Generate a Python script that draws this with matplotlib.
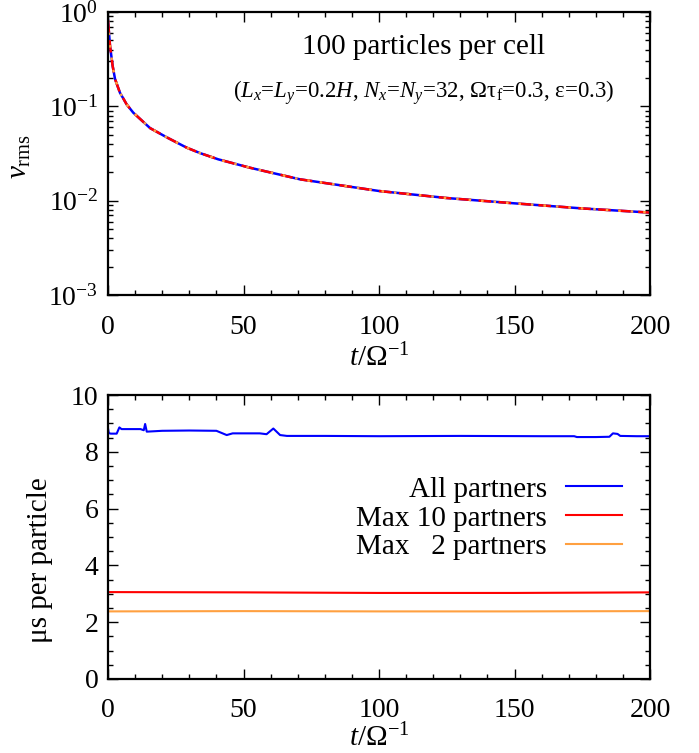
import numpy as np
import matplotlib
matplotlib.use('Agg')
import matplotlib.pyplot as plt
from matplotlib.ticker import MultipleLocator, LogLocator, NullFormatter

plt.rcParams['font.family'] = ['Liberation Serif', 'DejaVu Serif']
plt.rcParams['mathtext.fontset'] = 'custom'
plt.rcParams['mathtext.rm'] = 'Liberation Serif'
plt.rcParams['mathtext.it'] = 'Liberation Serif:italic'

# --- top panel: v_rms decay (three runs overlap) ---
t_v = [0, 0.74, 1.7, 2.6, 4.4, 6.9, 9.3, 15.5, 21.7, 29, 34, 40.7, 52.4,
       70.8, 89.3, 100, 125, 150, 175, 200]
v_all = [0.82, 0.44, 0.27, 0.195, 0.14, 0.105, 0.086, 0.059, 0.047, 0.0366,
         0.032, 0.0275, 0.0224, 0.0169, 0.0141, 0.0127, 0.0107, 0.0094,
         0.0083, 0.0075]
v_max10 = list(v_all)
v_max2 = list(v_all)

# --- bottom panel: cost per particle ---
t_all = [0, 0.3, 1, 3.2, 4.2, 5, 12, 13.2, 13.7, 14.3, 20, 30, 40, 43.8,
         46, 56, 58.5, 61, 63.5, 66, 80, 100, 130, 160, 172, 173, 180,
         185, 186.3, 188, 189, 195, 200]
c_all = [8.83, 8.66, 8.64, 8.64, 8.86, 8.80, 8.80, 8.76, 8.98, 8.71, 8.74,
         8.75, 8.74, 8.59, 8.65, 8.65, 8.62, 8.82, 8.59, 8.56, 8.56, 8.55,
         8.56, 8.55, 8.55, 8.52, 8.52, 8.53, 8.65, 8.63, 8.56, 8.55, 8.55]
t_flat = [0, 50, 100, 150, 200]
c_max10 = [3.06, 3.05, 3.03, 3.03, 3.05]
c_max2 = [2.38, 2.39, 2.38, 2.38, 2.39]

labels = ['All partners', 'Max 10 partners', 'Max   2 partners']
colors = ['#0000ff', '#ff0000', '#ffa040']

fig = plt.figure(figsize=(6.99, 7.53), dpi=100)
ax1 = fig.add_axes([0.1545, 0.608, 0.7755, 0.376])
ax2 = fig.add_axes([0.1545, 0.0983, 0.7755, 0.3771])

ax1.plot(t_v, v_all, color=colors[0], lw=1.8)
ax1.plot(t_v, v_max10, color=colors[1], lw=1.8, dashes=(5, 3))
ax1.plot(t_v, v_max2, color=colors[2], lw=1.8, dashes=(1, 4))
ax1.set_yscale('log')
ax1.set_ylim(1e-3, 1)
ax1.set_xlim(0, 200)
ax1.yaxis.set_minor_locator(LogLocator(base=10, subs=np.arange(2, 10), numticks=20))
ax1.yaxis.set_minor_formatter(NullFormatter())
ax1.set_ylabel(r'$v_{\rm rms}$', fontsize=21)
ax1.yaxis.set_label_coords(-0.138, 0.49)
ax1.set_xlabel(r'$t/$Ω$^{-1}$', fontsize=21, labelpad=3)
ax1.text(0.582, 0.876, '100 particles per cell', transform=ax1.transAxes,
         ha='center', va='center', fontsize=21)
ax1.text(0.583, 0.717,
         r'($L_x$=$L_y$=0.2$H$, $N_x$=$N_y$=32, Ωτ$_{\rm f}$=0.3, ε=0.3)',
         transform=ax1.transAxes, ha='center', va='center', fontsize=16.5)

ax2.plot(t_all, c_all, color=colors[0], lw=1.5, label=labels[0])
ax2.plot(t_flat, c_max10, color=colors[1], lw=1.5, label=labels[1])
ax2.plot(t_flat, c_max2, color=colors[2], lw=1.5, label=labels[2])
ax2.set_xlim(0, 200)
ax2.set_ylim(0, 10)
ax2.yaxis.set_major_locator(MultipleLocator(2))
ax2.yaxis.set_minor_locator(MultipleLocator(0.5))
ax2.set_ylabel('μs per particle', fontsize=21)
ax2.yaxis.set_label_coords(-0.101, 0.42)
ax2.set_xlabel(r'$t/$Ω$^{-1}$', fontsize=21, labelpad=0)
ax2.legend(loc='upper right', bbox_to_anchor=(0.948, 0.714), frameon=False,
           markerfirst=False, fontsize=21, handlelength=1.9, handletextpad=0.68,
           labelspacing=0.085, borderpad=0, borderaxespad=0)

for ax in (ax1, ax2):
    ax.xaxis.set_major_locator(MultipleLocator(50))
    ax.xaxis.set_minor_locator(MultipleLocator(10))
    ax.tick_params(which='both', direction='in', top=True, right=True, width=1)
    ax.tick_params(which='major', length=7, labelsize=20)
    ax.tick_params(which='minor', length=3.5)
    ax.tick_params(axis='x', which='major', pad=14)
    ax.tick_params(axis='y', which='major', pad=7)
    for s in ax.spines.values():
        s.set_linewidth(1.6)

fig.savefig('out.png', dpi=100)
